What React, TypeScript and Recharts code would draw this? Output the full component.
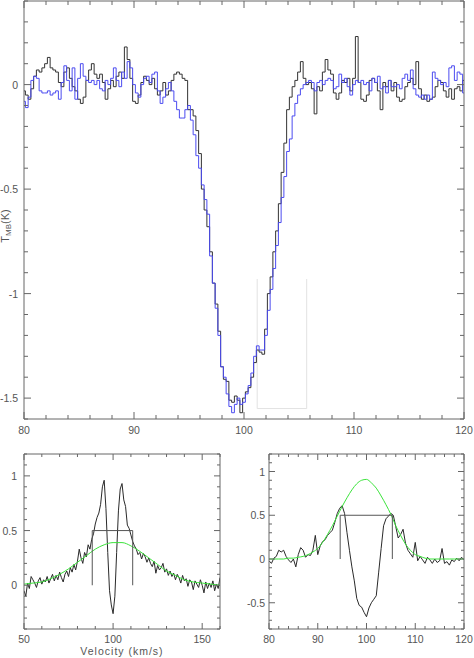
import React from 'react';
import { LineChart, Line, XAxis, YAxis } from 'recharts';

// top panel: two spectra, 0.25 km/s channels starting at 80 km/s
const TOP_V0 = 80;
const TOP_DV = 0.25;
const TOP_BLACK = [
  -0.03, -0.05, -0.07, -0.02, 0.04, 0.07, 0.06, 0.08, 0.1, 0.13, 0.08, 0.07, 0.06, 0.01, -0.01, 0.06,
  0.08, 0.03, -0.01, -0.03, -0.07, -0.09, -0.06, 0.02, 0.07, 0.1, 0.05, 0.03, 0.05, 0.01, -0.07, -0.02,
  0.02, -0.01, 0.04, 0.06, 0.03, 0.18, 0.12, 0.03, -0.08, -0.09, -0.05, 0.01, 0.04, 0.02, 0.0, 0.03,
  -0.02, -0.05, -0.03, 0.01, -0.05, -0.03, 0.02, 0.05, 0.06, 0.05, 0.03, 0.02, -0.12, -0.12, -0.15, -0.22,
  -0.33, -0.5, -0.6, -0.68, -0.8, -0.95, -1.05, -1.18, -1.35, -1.41, -1.42, -1.51, -1.52, -1.49, -1.51, -1.57,
  -1.5, -1.47, -1.45, -1.4, -1.33, -1.27, -1.28, -1.29, -1.17, -1.0, -0.92, -0.8, -0.7, -0.57, -0.42, -0.28,
  -0.12, -0.06, -0.01, 0.02, 0.06, 0.11, 0.03, 0.0, 0.01, -0.02, -0.14, -0.01, -0.03, 0.06, 0.12, 0.07,
  0.05, -0.04, -0.07, -0.04, 0.02, 0.01, 0.03, -0.03, 0.03, 0.23, 0.01, -0.07, -0.08, -0.05, 0.02, 0.03,
  0.01, -0.03, -0.12, 0.01, -0.01, 0.02, -0.03, 0.01, -0.06, -0.08, -0.07, -0.01, 0.01, 0.03, 0.0, 0.11,
  -0.02, -0.07, -0.05, -0.08, -0.07, -0.06, -0.01, 0.02, 0.01, -0.03, -0.06, -0.02, -0.07, -0.02, -0.01, -0.03,
  0.02,
];
const TOP_BLUE = [
  -0.08, -0.11, -0.06, 0.02, 0.04, 0.03, -0.03, -0.04, -0.04, -0.03, -0.05, -0.04, -0.03, -0.07, 0.01, 0.09,
  0.02, -0.03, 0.08, -0.07, 0.03, 0.1, 0.04, 0.02, 0.01, 0.02, 0.0, 0.02, -0.02, -0.03, 0.02, 0.0,
  0.03, 0.08, 0.02, -0.01, 0.06, 0.03, 0.11, 0.08, 0.0, -0.04, -0.06, 0.0, 0.03, 0.04, 0.01, 0.05,
  0.06, -0.03, -0.09, -0.06, -0.02, 0.01, -0.03, -0.08, -0.12, -0.16, -0.16, -0.12, -0.1, -0.17, -0.24, -0.34,
  -0.4, -0.48, -0.55, -0.62, -0.82, -0.95, -1.07, -1.2, -1.35, -1.4, -1.48, -1.54, -1.57, -1.53, -1.5, -1.53,
  -1.52, -1.48, -1.44, -1.38, -1.3, -1.25, -1.27, -1.27, -1.2, -1.08, -0.98, -0.88, -0.77, -0.66, -0.54, -0.44,
  -0.32, -0.26, -0.15, -0.09, -0.05, -0.02, 0.0, 0.01, 0.02, 0.01, -0.03, 0.01, 0.02, 0.0, 0.02, 0.03,
  0.02, -0.02, -0.01, 0.05, 0.01, 0.03, -0.01, -0.05, 0.0, 0.02, 0.01, 0.02, 0.0, 0.01, -0.03, 0.03,
  0.01, 0.04, -0.02, -0.01, -0.04, 0.02, -0.01, -0.01, 0.0, -0.02, 0.03, 0.05, 0.02, 0.07, -0.02, -0.05,
  -0.06, -0.05, -0.07, -0.05, -0.07, 0.06, 0.03, 0.02, 0.0, 0.01, -0.01, 0.08, 0.09, 0.02, 0.06, 0.05,
  -0.04,
];
// faint box drawn over the red wing
const TOP_BOX = [
  { v: 101.2, t: -0.93 },
  { v: 101.2, t: -1.55 },
  { v: 105.7, t: -1.55 },
  { v: 105.7, t: -0.93 },
];

// bottom left: 1 km/s channels from 50 km/s
const BL_V0 = 50;
const BL_DV = 1;
const BL_SPEC = [
  -0.05, -0.1, 0.02, -0.03, 0.08, 0.05, 0.02, -0.02, 0.04, 0.07, 0.01, 0.05, 0.03, 0.08, 0.02, 0.06,
  0.1, 0.04, 0.09, 0.05, 0.12, 0.07, 0.03, 0.1, 0.13, 0.08, 0.16, 0.12, 0.19, 0.14, 0.22, 0.33,
  0.25, 0.2, 0.3, 0.26, 0.37, 0.33, 0.42, 0.47, 0.56, 0.62, 0.66, 0.74, 0.9, 0.96, 0.7, 0.3,
  -0.05, -0.18, -0.26, -0.1, 0.3, 0.68, 0.88, 0.93, 0.78, 0.72, 0.55, 0.52, 0.46, 0.4, 0.36, 0.33,
  0.28, 0.3, 0.24, 0.29, 0.26, 0.21, 0.25, 0.2, 0.17, 0.22, 0.11, 0.18, 0.14, 0.16, 0.2, 0.12,
  0.15, 0.09, 0.13, 0.08, 0.11, 0.05, 0.1, 0.07, 0.02, 0.09, 0.04, 0.06, -0.01, 0.05, 0.03, -0.04,
  0.04, 0.01, -0.02, 0.05, 0.0, -0.07, 0.03, -0.03, 0.02, -0.02, 0.04, -0.05, 0.01, -0.03, 0.07,
];
const BL_FIT_V = [50, 55, 60, 65, 70, 75, 80, 85, 90, 95, 100, 105, 110, 115, 120, 125, 130, 135, 140, 145, 150, 155, 160];
const BL_FIT = [0.01, 0.02, 0.03, 0.06, 0.1, 0.15, 0.21, 0.27, 0.33, 0.37, 0.39, 0.39, 0.36, 0.31, 0.25, 0.19, 0.13, 0.09, 0.05, 0.03, 0.02, 0.01, 0.0];
const BL_WIDTH = [
  { v: 88.3, t: 0 },
  { v: 88.3, t: 0.5 },
  { v: 111, t: 0.5 },
  { v: 111, t: 0 },
];

// bottom right: 0.5 km/s channels from 80 km/s
const BR_V0 = 80;
const BR_DV = 0.5;
const BR_SPEC = [
  -0.02, -0.05, 0.01, 0.03, 0.1, 0.08, 0.1, 0.03, -0.01, -0.04, 0.0, -0.09, 0.05, 0.13, 0.1, 0.02,
  0.05, 0.04, 0.1, 0.27, 0.05, 0.15, 0.2, 0.22, 0.27, 0.3, 0.33, 0.42, 0.52, 0.58, 0.61, 0.52,
  0.3, 0.1, -0.09, -0.25, -0.45, -0.53, -0.55, -0.61, -0.66, -0.56, -0.5, -0.46, -0.42, -0.15, 0.12, 0.38,
  0.46, 0.49, 0.52, 0.5, 0.37, 0.24, 0.28, 0.34, 0.18, 0.1, 0.06, 0.02, 0.19, -0.02, 0.03, -0.01,
  -0.05, 0.02, -0.01, -0.05, 0.0, -0.04, -0.02, 0.12, -0.05, -0.03, -0.07, -0.01, -0.03, 0.01, -0.02, 0.02,
  -0.01,
];
const BR_FIT_V = [
  80, 81, 82, 83, 84, 85, 86, 87, 88, 89, 90, 91, 92, 93, 94, 95, 96, 97, 98, 99, 100,
  101, 102, 103, 104, 105, 106, 107, 108, 109, 110, 111, 112, 113, 114, 115, 116, 117, 118, 119, 120,
];
const BR_FIT = [
  0.0, 0.0, 0.0, 0.0, 0.01, 0.01, 0.02, 0.03, 0.05, 0.08, 0.12, 0.19, 0.28, 0.38, 0.49, 0.6, 0.7, 0.79, 0.86, 0.9, 0.91,
  0.87, 0.81, 0.72, 0.62, 0.51, 0.38, 0.27, 0.17, 0.1, 0.05, 0.03, 0.01, 0.0, 0.0, 0.0, 0.0, 0.0, 0.0, 0.0, 0.0,
];
const BR_WIDTH = [
  { v: 94.6, t: 0 },
  { v: 94.6, t: 0.5 },
  { v: 105.3, t: 0.5 },
  { v: 105.3, t: 0 },
];

const TOP_X_MAJOR = [80, 90, 100, 110, 120];
const TOP_Y_MAJOR = [-1.5, -1, -0.5, 0];
const BL_X_MAJOR = [50, 100, 150];
const BL_Y_MAJOR = [0, 0.5, 1];
const BR_X_MAJOR = [80, 90, 100, 110, 120];
const BR_Y_MAJOR = [-0.5, 0, 0.5, 1];

const FONT = "'Liberation Sans', Arial, sans-serif";
const INK = '#555';
const FRAME = '#666';

const steps = (a: number, b: number, d: number) => {
  const out: number[] = [];
  for (let x = a; x <= b + d / 2; x += d) out.push(Math.round(x * 1000) / 1000);
  return out;
};

const fmt = (n: number) => (Math.abs(n) < 1e-9 ? '0' : String(n));

// inward ticks, label only on majors
function tickFor(side: 'b' | 't' | 'l' | 'r', majors: number[], big: number, small: number, gap: number) {
  return (p: any) => {
    const v = p.payload.value;
    const isMajor = majors.some((m) => Math.abs(m - v) < 1e-6);
    const len = isMajor ? big : small;
    const { x, y } = p;
    let line;
    if (side === 'b') line = <line x1={x} y1={y} x2={x} y2={y - len} stroke={FRAME} />;
    else if (side === 't') line = <line x1={x} y1={y} x2={x} y2={y + len} stroke={FRAME} />;
    else if (side === 'l') line = <line x1={x} y1={y} x2={x + len} y2={y} stroke={FRAME} />;
    else line = <line x1={x} y1={y} x2={x - len} y2={y} stroke={FRAME} />;
    let label = null;
    if (isMajor && side === 'b')
      label = (
        <text x={x} y={y + gap} textAnchor="middle" fontSize={10.5} fill={INK} fontFamily={FONT}>
          {fmt(v)}
        </text>
      );
    if (isMajor && side === 'l')
      label = (
        <text x={x - gap} y={y + 4} textAnchor="end" fontSize={10.5} fill={INK} fontFamily={FONT}>
          {fmt(v)}
        </text>
      );
    return (
      <g>
        {line}
        {label}
      </g>
    );
  };
}

function Frame({ xDom, yDom, xTicks, yTicks, xMaj, yMaj, yW, xH, big, small, xGap, yGap }: any) {
  // the 4 axes making up the boxed frame
  return [
    <XAxis
      key="xb"
      xAxisId="b"
      type="number"
      dataKey="v"
      domain={xDom}
      ticks={xTicks}
      interval={0}
      height={xH}
      tickSize={0}
      tickMargin={0}
      tickLine={false}
      axisLine={{ stroke: FRAME }}
      allowDataOverflow
      tick={tickFor('b', xMaj, big, small, xGap)}
    />,
    <XAxis
      key="xt"
      xAxisId="t"
      orientation="top"
      type="number"
      dataKey="v"
      domain={xDom}
      ticks={xTicks}
      interval={0}
      height={1}
      tickSize={0}
      tickMargin={0}
      tickLine={false}
      axisLine={{ stroke: FRAME }}
      allowDataOverflow
      tick={tickFor('t', xMaj, big, small, 0)}
    />,
    <YAxis
      key="yl"
      yAxisId="l"
      type="number"
      domain={yDom}
      ticks={yTicks}
      interval={0}
      width={yW}
      tickSize={0}
      tickMargin={0}
      tickLine={false}
      axisLine={{ stroke: FRAME }}
      allowDataOverflow
      tick={tickFor('l', yMaj, big, small, yGap)}
    />,
    <YAxis
      key="yr"
      yAxisId="r"
      orientation="right"
      type="number"
      domain={yDom}
      ticks={yTicks}
      interval={0}
      width={1}
      tickSize={0}
      tickMargin={0}
      tickLine={false}
      axisLine={{ stroke: FRAME }}
      allowDataOverflow
      tick={tickFor('r', yMaj, big, small, 0)}
    />,
  ];
}

export default function App() {
  const topRows = TOP_BLACK.map((t, i) => ({ v: TOP_V0 + i * TOP_DV, k: t, b: TOP_BLUE[i] }));
  const blRows = BL_SPEC.map((t, i) => ({ v: BL_V0 + i * BL_DV, t }));
  const blFit = BL_FIT_V.map((v, i) => ({ v, t: BL_FIT[i] }));
  const brRows = BR_SPEC.map((t, i) => ({ v: BR_V0 + i * BR_DV, t }));
  const brFit = BR_FIT_V.map((v, i) => ({ v, t: BR_FIT[i] }));

  const common = { xAxisId: 'b', yAxisId: 'l', dot: false, activeDot: false, isAnimationActive: false, strokeWidth: 1 };

  return (
    <div style={{ position: 'absolute', left: 0, top: 0, width: 474, height: 658, background: '#fff' }}>
      <div style={{ position: 'absolute', left: 0, top: 0 }}>
        <LineChart width={474} height={439} data={topRows} margin={{ top: 0, right: 9, left: 0, bottom: 0 }}>
          {Frame({
            xDom: [80, 120],
            yDom: [-1.6, 0.4],
            xTicks: steps(80, 120, 2),
            yTicks: steps(-1.6, 0.4, 0.1),
            xMaj: TOP_X_MAJOR,
            yMaj: TOP_Y_MAJOR,
            yW: 24,
            xH: 20,
            big: 7,
            small: 4,
            xGap: 14.5,
            yGap: 6,
          })}
          <Line {...common} data={TOP_BOX} dataKey="t" type="linear" stroke="#e2e2e2" />
          <Line {...common} dataKey="k" type="step" stroke="#333" />
          <Line {...common} dataKey="b" type="step" stroke="#4b4bf0" />
        </LineChart>
      </div>
      <svg style={{ position: 'absolute', left: 0, top: 0 }} width={16} height={440}>
        <text
          transform="translate(9, 226) rotate(-90)"
          textAnchor="middle"
          fontSize={11}
          fill={INK}
          fontFamily={FONT}
        >
          T
          <tspan fontSize={8} dy={2}>
            MB
          </tspan>
          <tspan dy={-2}>(K)</tspan>
        </text>
      </svg>

      <div style={{ position: 'absolute', left: 0, top: 453 }}>
        <LineChart width={230} height={205} data={blRows} margin={{ top: 0, right: 9, left: 0, bottom: 0 }}>
          {Frame({
            xDom: [50, 160],
            yDom: [-0.4, 1.2],
            xTicks: steps(50, 160, 10),
            yTicks: steps(-0.4, 1.2, 0.1),
            xMaj: BL_X_MAJOR,
            yMaj: BL_Y_MAJOR,
            yW: 24,
            xH: 29,
            big: 6,
            small: 3,
            xGap: 13.5,
            yGap: 7,
          })}
          <Line {...common} dataKey="t" type="linear" stroke="#2a2a2a" />
          <Line {...common} data={blFit} dataKey="t" type="monotone" stroke="#3be33b" />
          <Line {...common} data={BL_WIDTH} dataKey="t" type="linear" stroke="#555" />
        </LineChart>
      </div>
      <div
        style={{
          position: 'absolute',
          left: 62,
          top: 645,
          width: 120,
          textAlign: 'center',
          fontFamily: FONT,
          fontSize: 10.5,
          letterSpacing: 1,
          color: INK,
          lineHeight: '12px',
          whiteSpace: 'nowrap',
        }}
      >
        Velocity (km/s)
      </div>

      <div style={{ position: 'absolute', left: 240, top: 453 }}>
        <LineChart width={234} height={205} data={brRows} margin={{ top: 0, right: 9, left: 0, bottom: 0 }}>
          {Frame({
            xDom: [80, 120],
            yDom: [-0.8, 1.2],
            xTicks: steps(80, 120, 2),
            yTicks: steps(-0.8, 1.2, 0.1),
            xMaj: BR_X_MAJOR,
            yMaj: BR_Y_MAJOR,
            yW: 29,
            xH: 29,
            big: 6,
            small: 3,
            xGap: 13.5,
            yGap: 4,
          })}
          <Line {...common} dataKey="t" type="linear" stroke="#2a2a2a" />
          <Line {...common} data={brFit} dataKey="t" type="monotone" stroke="#3be33b" />
          <Line {...common} data={BR_WIDTH} dataKey="t" type="linear" stroke="#555" />
        </LineChart>
      </div>
    </div>
  );
}
